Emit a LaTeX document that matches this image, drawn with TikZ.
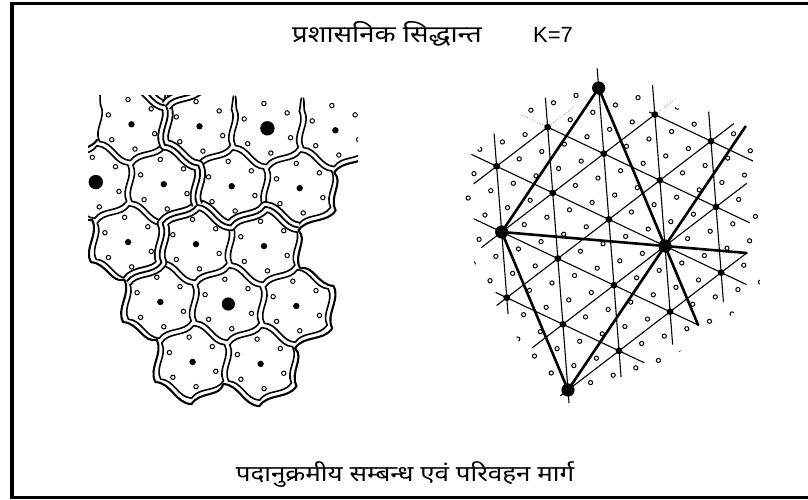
\documentclass[tikz,border=0pt]{standalone}
\usepackage{fontspec}
\setmainfont{Liberation Sans}
\newfontfamily\deva[Script=Devanagari, FakeStretch=1.17]{Noto Sans}

% hexagonal market areas: rotation of the lattice and waviness of the sides
\def\rot{1.7}
\def\sw{0.18}
% corner #4 of the cell centred at (#1,#2) with radius #3
\newcommand\hv[4]{({#1+#3*cos(#4+\rot)},{#2+#3*sin(#4+\rot)})}
% wavy side from corner #4 to corner #4+60
\newcommand\hs[4]{.. controls ({#1+#3*(2*cos(#4+\rot)+cos(#4+60+\rot))/3+\sw*#3*cos(#4+30+\rot)},{#2+#3*(2*sin(#4+\rot)+sin(#4+60+\rot))/3+\sw*#3*sin(#4+30+\rot)}) and ({#1+#3*(cos(#4+\rot)+2*cos(#4+60+\rot))/3-\sw*#3*cos(#4+30+\rot)},{#2+#3*(sin(#4+\rot)+2*sin(#4+60+\rot))/3-\sw*#3*sin(#4+30+\rot)}) .. \hv{#1}{#2}{#3}{#4+60}}
% the same side traversed backwards
\newcommand\hr[4]{.. controls ({#1+#3*(cos(#4+\rot)+2*cos(#4+60+\rot))/3-\sw*#3*cos(#4+30+\rot)},{#2+#3*(sin(#4+\rot)+2*sin(#4+60+\rot))/3-\sw*#3*sin(#4+30+\rot)}) and ({#1+#3*(2*cos(#4+\rot)+cos(#4+60+\rot))/3+\sw*#3*cos(#4+30+\rot)},{#2+#3*(2*sin(#4+\rot)+sin(#4+60+\rot))/3+\sw*#3*sin(#4+30+\rot)}) .. \hv{#1}{#2}{#3}{#4}}
% closed wavy cell
\newcommand\hcell[3]{\draw[cellline] \hv{#1}{#2}{#3}{90} \hs{#1}{#2}{#3}{90} \hs{#1}{#2}{#3}{150} \hs{#1}{#2}{#3}{210} \hs{#1}{#2}{#3}{270} \hs{#1}{#2}{#3}{330} \hs{#1}{#2}{#3}{390} -- cycle;}

\begin{document}
\begin{tikzpicture}[x=1pt,y=-1pt,
  cellline/.style={line width=1.6pt, line join=round, line cap=round},
  grp/.style={double, line width=1.8pt, double distance=8pt, line join=round, postaction={draw, line width=1.8pt}},
  ext/.style={line width=2.1pt, line join=round, line cap=round},
  placedot/.style={fill=black},
  ringc/.style={line width=1pt},
  latline/.style={line width=1.1pt},
  mainroute/.style={line width=2.6pt, line cap=round},
  faintline/.style={line width=0.7pt, dotted, black!55}]
\useasboundingbox (0,0) rectangle (808,500);
\fill[white] (0,0) rectangle (808,500);
\draw[line width=3.6pt] (12,3.5) rectangle (830,497.5);

% headings
\node[font=\deva\fontsize{23.5}{27}\selectfont, anchor=base] (title) at (387,43) {प्रशासनिक सिद्धान्त};
\node[font=\fontsize{22}{26}\selectfont, anchor=base] (kval) at (553,43) {K=7};
\node[font=\deva\fontsize{22.2}{26}\selectfont, anchor=base] (caption) at (405,481) {पदानुक्रमीय सम्बन्ध एवं परिवहन मार्ग};

% ---------- left: nested market areas ----------
\begin{scope}
\clip (88,96) rectangle (358,430);
\foreach \cx/\cy in {163.8/184.2, 231.7/186.2, 299.7/188.2, 95.8/182.1,
  128.1/242.1, 196.0/244.1, 264.0/246.1, 160.3/302.0, 228.3/304.0,
  296.3/306.0, 192.6/361.9, 260.6/363.9}{\hcell{\cx}{\cy}{36.3}}
% top row, open upwards
\foreach \cx/\cy in {131.5/124.3, 199.5/126.3, 267.4/128.3, 335.4/130.3}{
  \draw[cellline] \hv{\cx}{\cy}{36.3}{330} \hs{\cx}{\cy}{36.3}{330} \hs{\cx}{\cy}{36.3}{390} \hs{\cx}{\cy}{36.3}{450} \hs{\cx}{\cy}{36.3}{510};
  \draw[cellline] \hv{\cx}{\cy}{36.3}{330} .. controls +(1,-4) and +(-1,5) .. +(2,-13);
  \draw[cellline] \hv{\cx}{\cy}{36.3}{210} .. controls +(-1,-4) and +(1,5) .. +(-1,-13);
}
% boundaries of the higher order areas
\draw[grp] \hv{160.3}{302}{39.3}{210} \hs{160.3}{302}{39.3}{210} \hs{196}{244.1}{39.3}{150} \hs{196}{244.1}{39.3}{210} \hs{196}{244.1}{39.3}{270} \hs{264}{246.1}{39.3}{210} \hs{264}{246.1}{39.3}{270};
\draw[grp] \hv{131.5}{124.3}{39.3}{270} \hs{131.5}{124.3}{39.3}{270} \hr{199.5}{126.3}{39.3}{150} \hs{163.8}{184.2}{39.3}{270} \hs{163.8}{184.2}{39.3}{330};
\draw[grp] \hv{199.5}{126.3}{39.3}{210} \hs{199.5}{126.3}{39.3}{210};
% outer rim
\draw[ext] \hv{335.4}{130.3}{42.3}{330} \hs{335.4}{130.3}{42.3}{330} \hs{335.4}{130.3}{42.3}{30}
  \hs{299.7}{188.2}{42.3}{330} \hs{299.7}{188.2}{42.3}{30}
  \hs{264}{246.1}{42.3}{330}
  \hs{296.3}{306}{42.3}{270} \hs{296.3}{306}{42.3}{330} \hs{296.3}{306}{42.3}{30}
  \hs{260.6}{363.9}{42.3}{330} \hs{260.6}{363.9}{42.3}{30} \hs{260.6}{363.9}{42.3}{90}
  \hs{192.6}{361.9}{42.3}{30} \hs{192.6}{361.9}{42.3}{90} \hs{192.6}{361.9}{42.3}{150}
  \hs{160.3}{302}{42.3}{90} \hs{160.3}{302}{42.3}{150}
  \hs{128.1}{242.1}{42.3}{90} \hs{128.1}{242.1}{42.3}{150}
  \hs{95.8}{182.1}{42.3}{90} \hs{95.8}{182.1}{42.3}{150} \hs{95.8}{182.1}{42.3}{210};
% central places
\foreach \cx/\cy/\rr in {131.5/124.3/3.2, 199.5/126.3/3.2, 267.4/128.3/7.2, 335.4/130.3/3.2,
  95.8/182.1/7.2, 163.8/184.2/3.2, 231.7/186.2/3.2, 299.7/188.2/3.2,
  128.1/242.1/3.2, 196.0/244.1/3.2, 264.0/246.1/3.2,
  160.3/302.0/3.2, 228.3/304.0/6.6, 296.3/306.0/3.2,
  192.6/361.9/3.2, 260.6/363.9/3.2}{
  \fill[placedot] (\cx,\cy) circle[radius=\rr pt];
  \foreach \k in {0,...,5}
    \draw[ringc] ({\cx+25*cos(22+60*\k)},{\cy+25*sin(22+60*\k)}) circle[radius=2.2pt];
}
\end{scope}

% ---------- right: transport network ----------
\begin{scope}
\clip (466,160) -- (520,112) -- (598,76) -- (655,100) -- (705,118) -- (758,140)
  -- (760,292) -- (700,340) -- (640,374) -- (578,407) -- (556,407) -- (470,255) -- (462,195) -- cycle;
\begin{scope}[shift={(501.7,232)}, x={(56.13pt,-26.57pt)}, y={(-51.04pt,-39.14pt)}]
\foreach \i in {-2,...,4}{\foreach \j in {-4,...,2}{
  \foreach \a/\b in {3/1,6/2,2/3,5/4,1/5,4/6}{
    \draw[ringc] ({\i+\a/7},{\j+\b/7}) circle[radius=2.1pt];}}}
\end{scope}
\end{scope}

\begin{scope}[shift={(501.7,232)}, x={(56.13pt,-26.57pt)}, y={(-51.04pt,-39.14pt)}]
% lattice lines, first family
\draw[latline] (-0.1,-3) -- (1.75,-3);
\draw[latline] (-1,-2) -- (2.6,-2);
\draw[latline] (-1.45,-1) -- (3.45,-1);
\draw[latline] (-0.5,0) -- (3.5,0);
\draw[latline] (0.8,1) -- (3.45,1);
\draw[faintline] (-1.45,-2) -- (-1,-2);
% second family
\draw[latline] (-1,-2) -- (-1,-0.55);
\draw[latline] (0,-3) -- (0,0.4);
\draw[latline] (1,-3.45) -- (1,1.2);
\draw[latline] (2,-2.6) -- (2,1.6);
\draw[latline] (3,-1.5) -- (3,2.15);
\draw[faintline] (-1,-2.5) -- (-1,-2);
\draw[faintline] (0,-3.4) -- (0,-3);
% third family
\draw[latline] (-1.5,-1.5) -- (1.25,1.25);
\draw[latline] (-1.45,-2.45) -- (3.2,2.2);
\draw[latline] (-1.3,-3.3) -- (3.4,1.4);
\draw[latline] (-0.45,-3.45) -- (3.5,0.5);
\draw[latline] (0.55,-3.45) -- (3.45,-0.55);

% higher order centres and routes
\coordinate (B1) at (-1,-3);
\coordinate (B2) at (0,0);
\coordinate (B3) at (2,-1);
\coordinate (B4) at (3,2);
\coordinate (E1) at (3,-1.5);
\coordinate (E2) at (3.5,0);
\coordinate (E3) at (1.17,-3.49);
\draw[mainroute] (B1) -- (B2) -- (B3) -- (B1);
\draw[mainroute] (B2) -- (B4) -- (B3);
\draw[mainroute] (B3) -- (E1);
\draw[mainroute] (B3) -- (E2);
\draw[mainroute] (B3) -- (E3);
\foreach \p in {B1,B2,B3,B4}
  \fill[placedot] (\p) circle[radius=6.6pt];
\foreach \i/\j in {0/-3,1/-3,-1/-2,0/-2,1/-2,2/-2,-1/-1,0/-1,1/-1,3/-1,1/0,2/0,3/0,1/1,2/1,3/1}
  \fill[placedot] (\i,\j) circle[radius=3.4pt];
\end{scope}
\end{tikzpicture}
\end{document}
